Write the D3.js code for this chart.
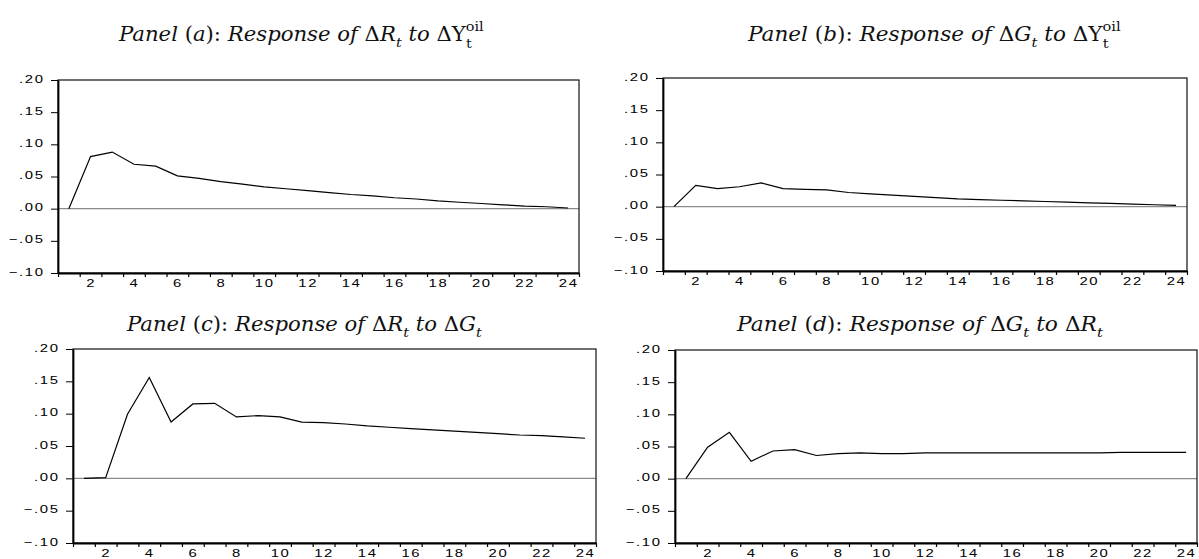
<!DOCTYPE html>
<html>
<head>
<meta charset="utf-8">
<script src="https://cdn.jsdelivr.net/npm/d3@7"></script>
<style>
  body { margin: 0; background: #fff; }
  svg { display: block; }
</style>
</head>
<body>
<svg id="chart" width="1199" height="559"></svg>
<script>
const periods = [1, 2, 3, 4, 5, 6, 7, 8, 9, 10, 11, 12, 13, 14, 15, 16, 17, 18, 19, 20, 21, 22, 23, 24];
const xTickLabels = [2, 4, 6, 8, 10, 12, 14, 16, 18, 20, 22, 24];
const yTickValues = [-0.10, -0.05, 0.00, 0.05, 0.10, 0.15, 0.20];

// impulse responses
const respRtoOil = [0.000, 0.081, 0.088, 0.069, 0.066, 0.051, 0.047, 0.042, 0.038, 0.034, 0.031, 0.028,
                    0.025, 0.022, 0.020, 0.017, 0.015, 0.012, 0.010, 0.008, 0.006, 0.004, 0.003, 0.001];
const respGtoOil = [0.000, 0.033, 0.028, 0.031, 0.037, 0.028, 0.027, 0.026, 0.022, 0.020, 0.018, 0.016,
                    0.014, 0.012, 0.011, 0.010, 0.009, 0.008, 0.007, 0.006, 0.005, 0.004, 0.003, 0.002];
const respRtoG = [0.000, 0.001, 0.099, 0.156, 0.087, 0.115, 0.116, 0.095, 0.097, 0.095, 0.087, 0.086,
                  0.084, 0.081, 0.079, 0.077, 0.075, 0.073, 0.071, 0.069, 0.067, 0.066, 0.064, 0.062];
const respGtoR = [0.000, 0.049, 0.072, 0.027, 0.043, 0.045, 0.036, 0.039, 0.040, 0.039, 0.039, 0.040,
                  0.040, 0.040, 0.040, 0.040, 0.040, 0.040, 0.040, 0.040, 0.041, 0.041, 0.041, 0.041];

// title pieces: [text, kind]  i = italic, n = upright, isub = italic subscript,
// nsup / nsubstack = upright super/subscript stacked on the same x
const titleA = [["Panel ", "i"], ["(", "n"], ["a", "i"], ["): ", "n"], ["Response of ", "i"], ["\u0394", "n"], ["R", "i"], ["t", "isub"],
                [" to ", "i"], ["\u0394", "n"], ["Y", "n"], ["oil", "nsup"], ["t", "nsubstack"]];
const titleB = [["Panel ", "i"], ["(", "n"], ["b", "i"], ["): ", "n"], ["Response of ", "i"], ["\u0394", "n"], ["G", "i"], ["t", "isub"],
                [" to ", "i"], ["\u0394", "n"], ["Y", "n"], ["oil", "nsup"], ["t", "nsubstack"]];
const titleC = [["Panel ", "i"], ["(", "n"], ["c", "i"], ["): ", "n"], ["Response of ", "i"], ["\u0394", "n"], ["R", "i"], ["t", "isub"],
                [" to ", "i"], ["\u0394", "n"], ["G", "i"], ["t", "isub"]];
const titleD = [["Panel ", "i"], ["(", "n"], ["d", "i"], ["): ", "n"], ["Response of ", "i"], ["\u0394", "n"], ["G", "i"], ["t", "isub"],
                [" to ", "i"], ["\u0394", "n"], ["R", "i"], ["t", "isub"]];

const panels = [
    { values: respRtoOil, title: titleA, box: { left: 58, right: 579, top: 80, bottom: 273 }, head: { x: 119, w: 366, y: 41 } },
    { values: respGtoOil, title: titleB, box: { left: 663, right: 1187, top: 78, bottom: 271 }, head: { x: 748, w: 374, y: 41 } },
    { values: respRtoG, title: titleC, box: { left: 73, right: 596, top: 349, bottom: 543 }, head: { x: 127, w: 357, y: 331 } },
    { values: respGtoR, title: titleD, box: { left: 675, right: 1197, top: 350, bottom: 543 }, head: { x: 737, w: 368, y: 331 } }
];

const svg = d3.select('#chart');
const tickFont = "'Liberation Sans', Arial, sans-serif";
const titleFont = "'DejaVu Serif', serif";
const titleSize = 19.5;
const fmt = d => d3.format('.2f')(d).replace('0.', '.');
const stretch = 1.35;

function drawTitle(parent, parts, head) {
    const size = titleSize;
    const text = parent.append('text')
        .attr('x', 0)
        .attr('y', 0)
        .style('font-family', titleFont)
        .style('font-size', size + 'px')
        .attr('fill', '#111');
    let shift = 0;
    let supStart = 0;
    parts.forEach(([str, kind]) => {
        let target = 0;
        if (kind === 'isub') target = 0.3 * size;
        if (kind === 'nsup') target = -0.5 * size;
        if (kind === 'nsubstack') target = 0.36 * size;
        if (kind === 'nsup') supStart = text.node().getComputedTextLength();
        const ts = text.append('tspan')
            .attr('dy', target - shift)
            .style('font-style', kind[0] === 'i' ? 'italic' : 'normal')
            .style('font-size', (kind === 'i' || kind === 'n' ? size : size * 0.68) + 'px')
            .text(str);
        if (kind === 'nsubstack') ts.attr('x', supStart);
        shift = target;
    });
    // squeeze horizontally to the width of the reference title
    const w = text.node().getBBox().width;
    text.attr('transform', `translate(${head.x},${head.y}) scale(${head.w / w},1)`);
}

panels.forEach(p => {
    const g = svg.append('g');
    const x = d3.scaleLinear().domain([0.5, 24.5]).range([p.box.left, p.box.right]);
    const y = d3.scaleLinear().domain([-0.10, 0.20]).range([p.box.bottom, p.box.top]);

    drawTitle(g, p.title, p.head);

    // zero line
    g.append('line')
        .attr('x1', x(0.5)).attr('x2', x(24.5))
        .attr('y1', y(0)).attr('y2', y(0))
        .attr('stroke', '#8a8a8a')
        .attr('stroke-width', 1.4);

    // frame
    g.append('rect')
        .attr('x', x(0.5)).attr('y', y(0.20))
        .attr('width', x(24.5) - x(0.5))
        .attr('height', y(-0.10) - y(0.20))
        .attr('fill', 'none')
        .attr('stroke', '#111')
        .attr('stroke-width', 1.2);

    // y axis
    const yAxis = g.append('g')
        .attr('transform', `translate(${x(0.5)},0)`)
        .call(d3.axisLeft(y).tickValues(yTickValues).tickSize(7).tickSizeOuter(0).tickFormat(fmt));
    yAxis.select('.domain').attr('stroke', '#000').attr('stroke-width', 1.8);
    yAxis.selectAll('.tick line').attr('stroke', '#000').attr('stroke-width', 1);
    yAxis.selectAll('.tick text')
        .attr('x', -13.5 / stretch)
        .attr('y', -1.5)
        .attr('transform', `scale(${stretch},1)`)
        .style('font-family', tickFont)
        .style('font-size', '11px')
        .style('letter-spacing', '1.2px')
        .attr('fill', '#000');

    // x axis: ticks on period boundaries, labels centred in each period
    const bounds = [0.5].concat(periods.map(d => d + 0.5));
    const xAxis = g.append('g')
        .attr('transform', `translate(0,${y(-0.10)})`)
        .call(d3.axisBottom(x).tickValues(bounds).tickSize(4).tickSizeOuter(0).tickFormat(''));
    xAxis.select('.domain').attr('stroke', '#000').attr('stroke-width', 1.8);
    xAxis.selectAll('.tick line').attr('stroke', '#000').attr('stroke-width', 1.2);

    const xLab = g.append('g')
        .attr('transform', `translate(0,${y(-0.10)})`)
        .call(d3.axisBottom(x).tickValues(xTickLabels).tickSize(0).tickPadding(6));
    xLab.select('.domain').remove();
    xLab.selectAll('.tick text')
        .attr('transform', `scale(${stretch},1)`)
        .style('font-family', tickFont)
        .style('font-size', '11px')
        .style('letter-spacing', '1.2px')
        .attr('fill', '#000');

    // response line
    const line = d3.line()
        .x((d, i) => x(periods[i]))
        .y(d => y(d));
    g.append('path')
        .datum(p.values)
        .attr('fill', 'none')
        .attr('stroke', '#000')
        .attr('stroke-width', 1.2)
        .attr('d', line);
});
</script>
</body>
</html>
